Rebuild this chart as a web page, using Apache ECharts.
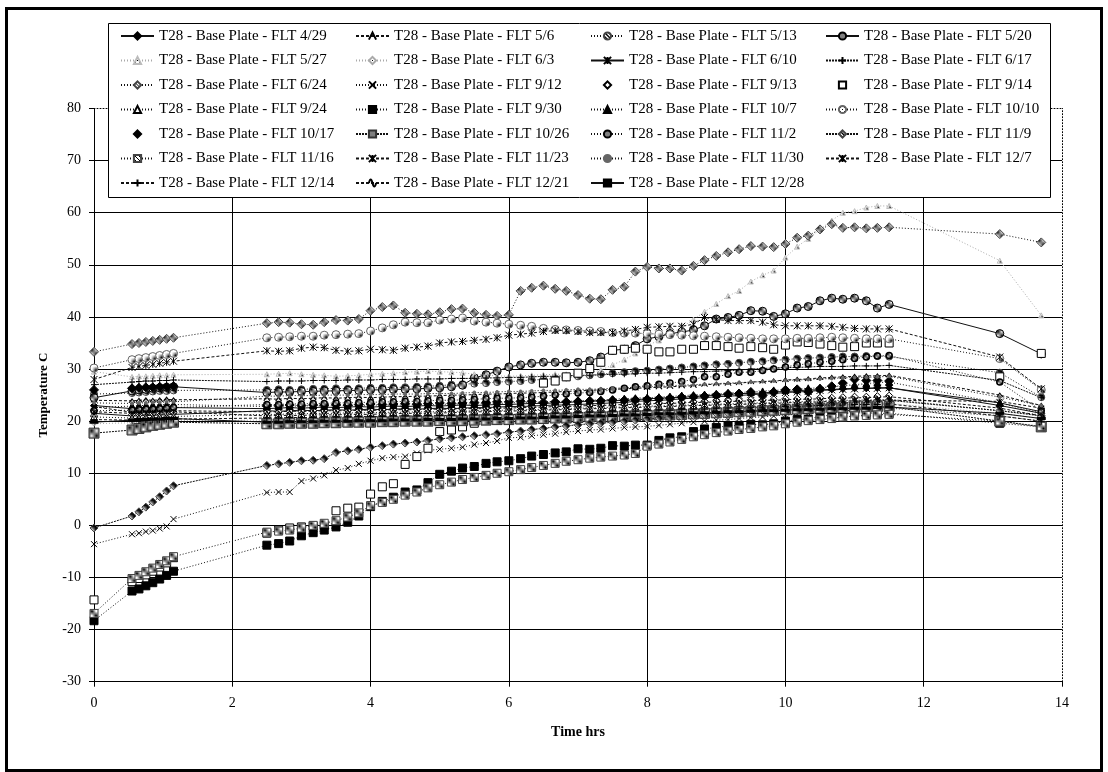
<!DOCTYPE html>
<html>
<head>
<meta charset="utf-8">
<title>T28 - Base Plate</title>
<script src="https://cdn.jsdelivr.net/npm/echarts@6/dist/echarts.min.js"></script>
<style>
  html, body { margin: 0; padding: 0; background: #fff; }
  #chart { width: 1108px; height: 772px; }
</style>
</head>
<body>
<div id="chart"></div>
<script>
// time of each reading (hrs): start, warm-up burst, 10 min log, two late readings
const hours = [0, 0.55, 0.65, 0.75, 0.85, 0.95, 1.05, 1.15,
  2.5, 2.67, 2.83, 3, 3.17, 3.33,
  3.5, 3.67, 3.83, 4, 4.17, 4.33,
  4.5, 4.67, 4.83, 5, 5.17, 5.33,
  5.5, 5.67, 5.83, 6, 6.17, 6.33,
  6.5, 6.67, 6.83, 7, 7.17, 7.33,
  7.5, 7.67, 7.83, 8, 8.17, 8.33,
  8.5, 8.67, 8.83, 9, 9.17, 9.33,
  9.5, 9.67, 9.83, 10, 10.17, 10.33,
  10.5, 10.67, 10.83, 11, 11.17, 11.33,
  11.5, 13.1, 13.7]

const flights = ['4/29', '5/6', '5/13', '5/20', '5/27', '6/3', '6/10', '6/17', '6/24',
  '9/12', '9/13', '9/14', '9/24', '9/30', '10/7', '10/10', '10/17', '10/26', '11/2',
  '11/9', '11/16', '11/23', '11/30', '12/7', '12/14', '12/21', '12/28']

const yTicks = [-30, 80, 10]
const xTicks = [0, 14, 2]

// temperatures (C), one array per flight
const flt0429 = [23.0, 22.4, 22.5, 22.6, 22.5, 22.6, 22.7, 22.6,
  22.4, 22.5, 22.6, 22.5, 22.6, 22.7,
  22.6, 22.7, 22.8, 22.7, 22.8, 22.9,
  22.8, 22.9, 23.0, 22.9, 23.0, 23.1,
  23.0, 23.1, 23.2, 23.2, 23.3, 23.4,
  23.4, 23.5, 23.6, 23.7, 23.8, 23.9,
  23.9, 24.0, 24.1, 24.3, 24.4, 24.5,
  24.6, 24.7, 24.9, 25.0, 25.1, 25.3,
  25.3, 25.4, 25.6, 25.7, 25.8, 26.0,
  26.0, 26.1, 26.2, 26.3, 26.3, 26.4,
  26.4, 23.0, 21.5]
const flt0506 = [24.0, 23.9, 24.0, 24.1, 24.0, 24.1, 24.2, 24.1,
  24.3, 24.2, 24.4, 24.3, 24.4, 24.5,
  24.4, 24.5, 24.6, 24.5, 24.6, 24.7,
  24.7, 24.8, 24.8, 24.9, 25.0, 25.0,
  25.1, 25.2, 25.2, 25.3, 25.4, 25.4,
  25.5, 25.6, 25.7, 25.8, 25.9, 26.0,
  26.1, 26.2, 26.3, 26.4, 26.5, 26.6,
  26.7, 26.8, 27.0, 27.1, 27.2, 27.3,
  27.5, 27.6, 27.7, 27.9, 28.0, 28.1,
  28.3, 28.4, 28.5, 28.6, 28.7, 28.7,
  28.8, 25.0, 23.0]
const flt0513 = [25.2, 25.4, 25.5, 25.6, 25.7, 25.8, 25.8, 25.9,
  26.0, 26.1, 26.0, 26.1, 26.2, 26.2,
  26.3, 26.2, 26.3, 26.4, 26.4, 26.5,
  26.5, 26.6, 26.7, 26.8, 27.0, 27.1,
  27.2, 27.3, 27.5, 27.6, 27.7, 27.9,
  28.0, 28.2, 28.4, 28.6, 28.8, 29.0,
  29.2, 29.4, 29.6, 29.7, 29.9, 30.1,
  30.3, 30.5, 30.7, 30.9, 31.0, 31.2,
  31.4, 31.5, 31.7, 31.8, 32.0, 32.1,
  32.2, 32.3, 32.4, 32.4, 32.5, 32.5,
  32.4, 29.3, 24.6]
const flt0520 = [24.5, 25.8, 26.0, 26.1, 26.3, 26.4, 26.5, 26.6,
  25.5, 25.6, 25.6, 25.7, 25.7, 25.8,
  25.8, 25.9, 25.9, 26.0, 26.0, 26.1,
  26.1, 26.2, 26.3, 26.4, 26.6, 26.9,
  28.3, 28.9, 29.6, 30.4, 30.8, 31.1,
  31.3, 31.3, 31.2, 31.3, 31.6, 32.3,
  33.6, 33.8, 34.5, 35.8, 36.2, 36.8,
  37.1, 37.5, 38.3, 39.6, 39.9, 40.3,
  41.2, 41.1, 40.1, 40.6, 41.7, 42.0,
  43.1, 43.6, 43.4, 43.6, 43.1, 41.7,
  42.4, 36.8, 32.9]
const flt0527 = [29.5, 28.5, 28.6, 28.6, 28.7, 28.8, 28.8, 28.9,
  29.0, 29.1, 29.2, 29.0, 28.9, 28.8,
  28.6, 28.7, 28.8, 29.0, 29.1, 29.2,
  29.4, 29.5, 29.6, 29.5, 29.4, 29.3,
  29.0, 28.8, 28.7, 28.6, 28.7, 28.8,
  28.9, 29.0, 29.0, 29.1, 29.3, 29.8,
  30.8, 31.8, 33.0, 34.5, 35.5, 36.8,
  38.0, 39.5, 41.0, 42.5, 44.0, 45.0,
  46.8, 48.0, 48.9, 51.4, 53.5, 55.0,
  56.8, 58.5, 60.0, 60.3, 61.0, 61.3,
  61.3, 50.8, 40.3]
const flt0603 = [19.5, 19.7, 19.8, 19.8, 19.9, 20.0, 20.0, 20.1,
  20.2, 20.3, 20.3, 20.4, 20.4, 20.5,
  20.5, 20.6, 20.6, 20.7, 20.7, 20.8,
  20.8, 20.9, 20.9, 21.0, 21.0, 21.1,
  21.1, 21.2, 21.2, 21.3, 21.3, 21.4,
  21.5, 21.5, 21.6, 21.7, 21.7, 21.8,
  21.9, 21.9, 22.0, 22.1, 22.1, 22.2,
  22.3, 22.3, 22.4, 22.5, 22.5, 22.6,
  22.7, 22.7, 22.8, 22.9, 22.9, 23.0,
  23.1, 23.1, 23.2, 23.3, 23.3, 23.4,
  23.4, 21.5, 20.5]
const flt0610 = [21.5, 21.0, 21.0, 21.1, 21.1, 21.2, 21.2, 21.3,
  22.0, 21.9, 22.0, 22.1, 22.0, 22.1,
  22.2, 22.1, 22.2, 22.3, 22.2, 22.3,
  22.4, 22.3, 22.4, 22.5, 22.4, 22.5,
  22.6, 22.6, 22.7, 22.8, 22.8, 22.9,
  23.0, 23.1, 23.1, 23.2, 23.3, 23.4,
  23.5, 23.6, 23.8, 23.9, 24.0, 24.1,
  24.3, 24.4, 24.5, 24.7, 24.8, 24.9,
  25.1, 25.2, 25.3, 25.5, 25.6, 25.7,
  25.9, 26.0, 26.1, 26.2, 26.3, 26.3,
  26.4, 23.5, 21.8]
const flt0617 = [27.0, 27.5, 27.6, 27.7, 27.7, 27.8, 27.8, 27.9,
  27.6, 27.7, 27.7, 27.7, 27.8, 27.8,
  27.8, 27.9, 27.9, 27.9, 28.0, 28.0,
  28.0, 28.1, 28.1, 28.1, 28.2, 28.2,
  28.2, 28.3, 28.3, 28.4, 28.4, 28.5,
  28.6, 28.6, 28.7, 28.8, 28.8, 28.9,
  29.0, 29.0, 29.1, 29.2, 29.2, 29.3,
  29.4, 29.5, 29.5, 29.6, 29.7, 29.8,
  30.0, 30.1, 30.2, 30.3, 30.3, 30.4,
  30.5, 30.5, 30.5, 30.6, 30.6, 30.6,
  30.7, 27.8, 24.5]
const flt0624 = [33.3, 34.8, 35.0, 35.2, 35.4, 35.6, 35.8, 36.0,
  38.8, 39.0, 38.9, 38.6, 38.5, 39.0,
  39.4, 39.3, 39.6, 41.2, 41.9, 42.2,
  40.8, 40.6, 40.5, 40.9, 41.5, 41.6,
  40.8, 40.4, 40.2, 40.4, 45.0, 45.6,
  46.0, 45.4, 45.0, 44.2, 43.5, 43.4,
  45.2, 45.8, 48.7, 49.6, 49.3, 49.3,
  48.9, 49.8, 50.9, 51.7, 52.4, 53.0,
  53.6, 53.5, 53.4, 54.0, 55.2, 55.6,
  56.8, 57.8, 57.1, 57.2, 57.0, 57.1,
  57.2, 55.9, 54.3]
const flt0912 = [-3.6, -1.7, -1.5, -1.2, -1.0, -0.6, -0.2, 1.2,
  6.3, 6.4, 6.4, 8.5, 9.0, 9.6,
  10.6, 11.0, 11.8, 12.4, 12.9, 13.1,
  13.2, 13.8, 14.4, 14.6, 14.8, 15.0,
  15.5, 15.8, 16.2, 16.8, 16.9, 17.2,
  17.4, 17.6, 17.9, 18.1, 18.3, 18.4,
  18.6, 18.8, 18.9, 19.0, 19.2, 19.4,
  19.6, 19.8, 20.0, 20.2, 20.3, 20.5,
  20.7, 20.8, 21.0, 21.2, 21.3, 21.5,
  21.7, 21.8, 22.0, 22.1, 22.3, 22.4,
  22.5, 21.0, 20.0]
const flt0913 = [21.0, 21.3, 21.3, 21.4, 21.4, 21.5, 21.5, 21.6,
  21.8, 21.8, 21.9, 21.9, 22.0, 22.0,
  22.0, 22.1, 22.1, 22.1, 22.2, 22.2,
  22.2, 22.3, 22.3, 22.3, 22.4, 22.4,
  22.5, 22.5, 22.6, 22.7, 22.7, 22.8,
  22.9, 22.9, 23.0, 23.1, 23.1, 23.2,
  23.3, 23.3, 23.4, 23.5, 23.5, 23.6,
  23.7, 23.7, 23.8, 23.9, 23.9, 24.0,
  24.1, 24.1, 24.2, 24.3, 24.3, 24.4,
  24.5, 24.5, 24.6, 24.7, 24.7, 24.8,
  24.9, null, null]
const flt0914 = [-14.3, -10.8, -10.2, -9.5, -8.8, -8.0, -7.2, -6.2,
  -1.5, -0.9, -0.5, -0.3, -0.1, 0.0,
  2.8, 3.3, 3.5, 6.0, 7.4, 8.0,
  11.7, 13.2, 14.8, 18.0, 18.3, 18.9,
  19.6, null, null, null, null, null,
  27.3, 27.7, 28.5, 29.2, 30.1, 31.3,
  33.6, 33.8, 34.0, 33.8, 33.3, 33.3,
  33.8, 33.8, 34.5, 34.5, 34.3, 34.0,
  34.3, 34.1, 33.8, 34.6, 35.2, 35.1,
  34.8, 34.5, 34.2, 34.3, 35.0, 35.0,
  35.0, 28.5, 33.0]
const flt0924 = [20.8, 20.6, 20.6, 20.7, 20.7, 20.8, 20.8, 20.9,
  21.3, 21.3, 21.4, 21.4, 21.5, 21.5,
  21.5, 21.6, 21.6, 21.6, 21.7, 21.7,
  21.7, 21.8, 21.8, 21.8, 21.9, 21.9,
  22.0, 22.0, 22.1, 22.1, 22.2, 22.2,
  22.3, 22.3, 22.4, 22.5, 22.5, 22.6,
  22.7, 22.7, 22.8, 22.9, 22.9, 23.0,
  23.1, 23.1, 23.2, 23.3, 23.3, 23.4,
  23.5, 23.5, 23.6, 23.7, 23.7, 23.8,
  23.9, 23.9, 24.0, 24.0, 24.1, 24.1,
  24.2, 22.0, 21.2]
const flt0930 = [-18.3, -12.6, -12.2, -11.6, -11.0, -10.3, -9.6, -8.8,
  -3.8, -3.5, -3.0, -2.0, -1.4, -0.9,
  -0.3, 0.6, 1.8, 3.6, 4.6, 5.4,
  6.4, 6.8, 8.2, 9.8, 10.4, 11.0,
  11.3, 11.9, 12.2, 12.4, 12.8, 13.3,
  13.6, 13.9, 14.1, 14.7, 14.6, 14.8,
  15.3, 15.2, 15.4, 15.4, 16.3, 16.8,
  17.0, 18.0, 18.5, 18.8, 19.1, 19.2,
  19.4, 19.3, 19.5, 20.0, 20.3, 20.4,
  20.9, 21.2, 21.4, 21.6, 21.6, 21.5,
  21.5, 19.6, 18.9]
const flt1007 = [22.6, 22.9, 23.0, 23.0, 23.1, 23.1, 23.2, 23.2,
  22.8, 22.9, 22.9, 22.9, 23.0, 22.9,
  23.0, 23.0, 23.0, 23.1, 23.1, 23.1,
  23.1, 23.2, 23.2, 23.2, 23.3, 23.3,
  23.3, 23.4, 23.4, 23.5, 23.6, 23.6,
  23.7, 23.8, 23.8, 23.9, 24.0, 24.1,
  24.2, 24.3, 24.4, 24.5, 24.6, 24.7,
  24.9, 25.0, 25.1, 25.2, 25.4, 25.5,
  25.6, 25.7, 25.9, 26.0, 26.1, 26.3,
  26.4, 26.6, 26.8, 27.0, 27.2, 27.4,
  27.5, 23.5, 21.5]
const flt1010 = [30.2, 31.8, 32.0, 32.2, 32.4, 32.6, 32.8, 33.0,
  36.0, 36.1, 36.2, 36.3, 36.3, 36.5,
  36.6, 36.7, 36.8, 37.3, 37.9, 38.5,
  39.0, 38.9, 38.9, 39.4, 39.6, 39.8,
  39.2, 39.0, 38.8, 38.6, 38.4, 38.2,
  37.8, 37.6, 37.5, 37.4, 37.3, 37.2,
  37.0, 36.9, 36.9, 36.8, 36.7, 36.6,
  36.5, 36.4, 36.3, 36.2, 36.1, 36.0,
  35.9, 35.8, 35.8, 35.8, 35.9, 35.9,
  36.0, 36.1, 36.0, 35.9, 35.8, 35.8,
  35.8, 32.0, 26.0]
const flt1017 = [26.0, 26.3, 26.4, 26.5, 26.5, 26.6, 26.6, 26.7,
  23.0, 23.0, 23.1, 23.0, 23.1, 23.1,
  23.2, 23.1, 23.2, 23.3, 23.2, 23.3,
  23.4, 23.3, 23.4, 23.5, 23.4, 23.5,
  23.6, 23.6, 23.7, 23.7, 23.8, 23.8,
  23.6, 23.7, 23.7, 23.8, 23.9, 23.9,
  24.0, 24.0, 24.1, 24.2, 24.3, 24.4,
  24.6, 24.7, 24.8, 25.0, 25.2, 25.3,
  25.6, 24.9, 25.6, 26.0, 26.1, 25.6,
  26.2, 26.7, 27.3, 28.0, 27.8, 27.8,
  27.7, null, null]
const flt1026 = [17.7, 18.3, 18.6, 18.9, 19.2, 19.4, 19.6, 19.8,
  19.5, 19.5, 19.6, 19.6, 19.6, 19.7,
  19.7, 19.8, 19.8, 19.8, 19.9, 19.9,
  20.0, 20.0, 20.0, 20.1, 20.1, 20.1,
  20.2, 20.2, 20.3, 20.3, 20.4, 20.4,
  20.5, 20.6, 20.6, 20.7, 20.8, 20.8,
  20.9, 21.0, 21.0, 21.1, 21.2, 21.2,
  21.3, 21.4, 21.5, 21.6, 21.7, 21.8,
  21.9, 22.0, 22.1, 22.2, 22.3, 22.4,
  22.5, 22.6, 22.6, 22.7, 22.7, 22.8,
  22.8, 20.0, 18.9]
const flt1102 = [22.0, 22.1, 22.2, 22.3, 22.3, 22.4, 22.5, 22.6,
  23.2, 23.2, 23.3, 23.3, 23.4, 23.4,
  23.5, 23.5, 23.6, 23.6, 23.7, 23.7,
  23.8, 23.8, 23.9, 24.0, 24.0, 24.1,
  24.2, 24.3, 24.4, 24.4, 24.5, 24.6,
  24.8, 25.0, 25.2, 25.4, 25.5, 25.7,
  26.0, 26.3, 26.6, 26.8, 27.1, 27.3,
  27.6, 28.0, 28.5, 28.5, 29.0, 29.4,
  29.4, 29.7, 30.0, 30.4, 30.8, 31.0,
  31.3, 31.5, 31.8, 32.0, 32.3, 32.5,
  32.6, 27.5, 22.0]
const flt1109 = [-0.5, 1.8, 2.6, 3.5, 4.5, 5.5, 6.6, 7.6,
  11.5, 11.8, 12.1, 12.4, 12.5, 12.8,
  14.0, 14.3, 14.6, 15.0, 15.3, 15.6,
  15.8, 16.0, 16.3, 16.6, 16.8, 17.0,
  17.2, 17.4, 17.6, 17.9, 18.1, 18.4,
  18.6, 18.9, 19.1, 19.3, 19.5, 19.6,
  19.8, 20.0, 20.2, 20.4, 20.6, 20.7,
  20.9, 21.1, 21.3, 21.5, 21.6, 21.8,
  22.0, 22.2, 22.4, 22.6, 22.7, 22.9,
  23.1, 23.3, 23.5, 23.7, 23.8, 23.9,
  24.0, 22.0, 21.0]
const flt1116 = [-16.9, -10.2, -9.6, -8.9, -8.2, -7.5, -6.8, -6.0,
  -1.3, -1.1, -0.9, -0.5, 0.0, 0.4,
  0.9, 1.6, 2.4, 3.8, 4.4, 5.0,
  5.8, 6.4, 7.2, 7.8, 8.3, 8.8,
  9.2, 9.6, 10.0, 10.3, 10.7, 11.1,
  11.5, 11.9, 12.3, 12.6, 12.9, 13.1,
  13.3, 13.5, 13.8, 15.2, 15.6, 16.0,
  16.5, 17.0, 17.4, 17.8, 18.1, 18.4,
  18.6, 18.9, 19.1, 19.5, 19.8, 20.1,
  20.3, 20.5, 20.8, 21.0, 21.1, 21.2,
  21.3, 20.0, 19.0]
const flt1123 = [21.8, 21.5, 21.6, 21.6, 21.7, 21.7, 21.8, 21.8,
  21.0, 21.1, 21.1, 21.1, 21.2, 21.2,
  21.2, 21.3, 21.3, 21.3, 21.4, 21.4,
  21.5, 21.5, 21.5, 21.6, 21.6, 21.7,
  21.8, 21.8, 21.9, 21.9, 22.0, 22.0,
  22.1, 22.2, 22.2, 22.3, 22.4, 22.4,
  22.5, 22.6, 22.6, 22.7, 22.8, 22.8,
  22.9, 23.0, 23.0, 23.1, 23.2, 23.2,
  23.3, 23.4, 23.4, 23.5, 23.6, 23.6,
  23.7, 23.8, 23.8, 23.9, 23.9, 24.0,
  24.0, 23.8, 22.5]
const flt1130 = [23.5, 23.4, 23.5, 23.5, 23.6, 23.6, 23.7, 23.7,
  24.8, 24.8, 24.9, 24.9, 24.9, 25.0,
  25.0, 25.0, 25.1, 25.1, 25.1, 25.2,
  25.2, 25.2, 25.3, 25.3, 25.3, 25.4,
  25.5, 25.5, 25.6, 25.7, 25.7, 25.8,
  25.9, 25.9, 26.0, 26.1, 26.1, 26.2,
  26.3, 26.4, 26.5, 26.6, 26.7, 26.8,
  26.9, 27.0, 27.1, 27.2, 27.3, 27.4,
  27.5, 27.6, 27.7, 27.8, 27.9, 28.0,
  28.1, 28.2, 28.3, 28.4, 28.4, 28.5,
  28.6, 24.6, 23.0]
const flt1207 = [28.0, 30.3, 30.5, 30.7, 30.9, 31.1, 31.3, 31.5,
  33.5, 33.4, 33.5, 34.0, 34.2, 34.1,
  33.6, 33.4, 33.5, 33.8, 33.7, 33.6,
  34.0, 34.2, 34.4, 35.0, 35.2, 35.3,
  35.5, 35.7, 36.0, 36.5, 36.7, 36.9,
  37.2, 37.4, 37.4, 37.2, 37.0, 37.0,
  37.0, 37.3, 37.6, 38.0, 38.1, 38.2,
  38.2, 38.6, 39.9, 39.5, 39.3, 39.3,
  39.3, 39.0, 38.5, 38.3, 38.3, 38.3,
  38.3, 38.2, 38.0, 37.8, 37.7, 37.7,
  37.7, 32.3, 26.2]
const flt1214 = [20.3, 20.2, 20.2, 20.3, 20.3, 20.3, 20.4, 20.4,
  20.6, 20.6, 20.7, 20.7, 20.7, 20.8,
  20.8, 20.8, 20.9, 20.9, 20.9, 21.0,
  21.0, 21.0, 21.1, 21.1, 21.1, 21.2,
  21.2, 21.2, 21.3, 21.3, 21.3, 21.4,
  21.4, 21.5, 21.5, 21.6, 21.7, 21.7,
  21.8, 21.9, 21.9, 22.0, 22.1, 22.1,
  22.2, 22.3, 22.3, 22.4, 22.5, 22.5,
  22.6, 22.7, 22.7, 22.8, 22.9, 22.9,
  23.0, 23.1, 23.1, 23.2, 23.2, 23.2,
  23.3, 21.0, 20.0]
const flt1221 = [22.8, 21.7, 21.8, 21.8, 21.9, 21.9, 22.0, 22.0,
  21.8, 21.8, 21.9, 21.9, 21.9, 22.0,
  22.0, 22.0, 22.1, 22.1, 22.1, 22.2,
  22.2, 22.2, 22.3, 22.3, 22.3, 22.4,
  22.4, 22.4, 22.5, 22.5, 22.6, 22.6,
  22.7, 22.8, 22.8, 22.9, 23.0, 23.0,
  23.1, 23.2, 23.2, 23.3, 23.4, 23.4,
  23.5, 23.6, 23.6, 23.7, 23.8, 23.8,
  23.9, 24.0, 24.0, 24.1, 24.2, 24.2,
  24.3, 24.4, 24.4, 24.5, 24.5, 24.6,
  24.7, 22.5, 21.0]
const flt1228 = [19.8, 20.2, 20.3, 20.3, 20.4, 20.4, 20.5, 20.5,
  19.8, 19.8, 19.9, 19.9, 19.9, 20.0,
  20.0, 20.0, 20.1, 20.1, 20.1, 20.2,
  20.2, 20.2, 20.3, 20.3, 20.3, 20.4,
  20.4, 20.4, 20.5, 20.5, 20.6, 20.6,
  20.7, 20.8, 20.8, 20.9, 21.0, 21.0,
  21.1, 21.2, 21.2, 21.3, 21.4, 21.4,
  21.5, 21.6, 21.6, 21.7, 21.8, 21.8,
  21.9, 22.0, 22.0, 22.1, 22.2, 22.2,
  22.3, 22.4, 22.4, 22.5, 22.5, 22.6,
  22.7, 21.5, 20.5]

const temps = [flt0429, flt0506, flt0513, flt0520, flt0527, flt0603, flt0610, flt0617, flt0624,
  flt0912, flt0913, flt0914, flt0924, flt0930, flt1007, flt1010, flt1017, flt1026, flt1102,
  flt1109, flt1116, flt1123, flt1130, flt1207, flt1214, flt1221, flt1228]

// black & white dither fills, like a mono print
function pattern(rows) {
  const c = document.createElement('canvas')
  c.width = rows[0].length
  c.height = rows.length
  const g = c.getContext('2d')
  rows.forEach((r, y) => {
    for (let x = 0; x < r.length; x++) {
      g.fillStyle = r[x] === '1' ? '#000' : '#fff'
      g.fillRect(x, y, 1, 1)
    }
  })
  return { image: c, repeat: 'repeat' }
}
const CHECK = pattern(['10', '01'])
const HATCH = pattern(['1000', '0100', '0010', '0001'])
const HATCH2 = pattern(['1100', '0110', '0011', '1001'])
const LIGHT = pattern(['1000', '0000', '0010', '0000'])

const P_CROSS = 'path://M0,0L10,10M10,0L0,10'
const P_PLUS = 'path://M5,0L5,10M0,5L10,5'
const P_STAR = 'path://M0,0L10,10M10,0L0,10M5,0L5,10'
const P_CARET = 'path://M0,10L5,0L10,10'
const P_WAVE = 'path://M0,5Q2.5,0,5,5T10,5'

const DOT = [1, 2]
const DASH = [3, 2]
const SHORT = [2, 1]

// marker + line look per flight, same order as flights
const looks = [
  { symbol: 'diamond', size: 7, fill: '#000', line: 'solid' },
  { symbol: P_CARET, size: [6, 4], fill: 'none', line: DASH },
  { symbol: 'circle', size: 7, fill: HATCH2, stroke: '#444', line: DOT },
  { symbol: 'circle', size: 8, fill: CHECK, line: 'solid' },
  { symbol: 'triangle', size: 5, fill: LIGHT, stroke: '#bbb', line: DOT, lineColor: '#aaa' },
  { symbol: 'diamond', size: 5, fill: LIGHT, stroke: '#aaa', line: DOT, lineColor: '#aaa' },
  { symbol: P_STAR, size: 7, fill: 'none', line: 'solid' },
  { symbol: P_PLUS, size: 6, fill: 'none', line: SHORT },
  { symbol: 'diamond', size: 9, fill: HATCH, stroke: '#444', line: DOT },
  { symbol: P_CROSS, size: 6, fill: 'none', line: DOT },
  { symbol: 'diamond', size: 7, fill: '#fff', line: null },
  { symbol: 'rect', size: 8, fill: '#fff', line: null },
  { symbol: 'triangle', size: 7, fill: '#fff', line: DOT },
  { symbol: 'rect', size: 8, fill: '#000', line: DOT },
  { symbol: 'triangle', size: 7, fill: '#000', line: DOT },
  { symbol: 'circle', size: 8, fill: LIGHT, stroke: '#666', line: DOT },
  { symbol: 'diamond', size: 9, fill: '#000', line: null },
  { symbol: 'rect', size: 10, fill: CHECK, stroke: '#333', line: SHORT },
  { symbol: 'circle', size: 6, fill: CHECK, stroke: '#000', bw: 1.5, line: DOT },
  { symbol: 'diamond', size: 8, fill: HATCH2, stroke: '#444', line: SHORT },
  { symbol: 'rect', size: 8, fill: HATCH, stroke: '#444', line: DOT },
  { symbol: P_STAR, size: 5, fill: 'none', line: DASH },
  { symbol: 'circle', size: 3, fill: '#666', stroke: '#666', line: DOT },
  { symbol: P_STAR, size: 7, fill: 'none', line: DASH },
  { symbol: P_PLUS, size: 7, fill: 'none', line: DASH },
  { symbol: P_WAVE, size: [6, 3], fill: 'none', line: DASH },
  { symbol: 'rect', size: [6, 2], fill: '#000', line: 'solid' }
]

const seriesName = f => 'T28 - Base Plate - FLT ' + f

const series = flights.map((f, k) => {
  const lk = looks[k]
  return {
    name: seriesName(f),
    type: 'line',
    data: hours.map((h, i) => [h, temps[k][i]]),
    symbol: lk.symbol,
    symbolSize: lk.size,
    itemStyle: { color: lk.fill, borderColor: lk.stroke || '#000', borderWidth: lk.bw || 1 },
    lineStyle: lk.line ? { color: lk.lineColor || '#111', width: 1, type: lk.line } : { width: 0, opacity: 0 },
    emphasis: { disabled: true },
    silent: true,
    z: 2
  }
})

// legend in four columns, row by row like the original
const legendCols = [0, 1, 2, 3].map(c => flights.filter((f, k) => k % 4 === c).map(seriesName))

const font = 'Liberation Serif'

const chart = echarts.init(document.getElementById('chart'), null, { renderer: 'canvas' })

chart.setOption({
  animation: false,
  backgroundColor: '#fff',
  grid: { left: 94, right: 46, top: 108.5, bottom: 90.3, outerBoundsMode: 'none' },
  legend: legendCols.map((names, c) => ({
    data: names,
    orient: 'vertical',
    left: 120 + 235 * c,
    top: 28,
    padding: 0,
    itemWidth: 33,
    itemHeight: 9,
    itemGap: 8.5,
    selectedMode: false,
    textStyle: { fontFamily: font, fontSize: 15, color: '#000', lineHeight: 16 }
  })),
  xAxis: [{
    type: 'value',
    min: xTicks[0], max: xTicks[1], interval: xTicks[2],
    name: 'Time hrs',
    nameLocation: 'middle',
    nameGap: 44,
    nameTextStyle: { fontFamily: font, fontSize: 14, fontWeight: 'bold', color: '#000' },
    axisLine: { show: true, onZero: false, lineStyle: { color: '#000', width: 1 } },
    axisTick: { show: true, inside: false, length: 5, lineStyle: { color: '#000' } },
    axisLabel: { fontFamily: font, fontSize: 14, color: '#000', margin: 15 },
    splitLine: { show: true, showMinLine: false, showMaxLine: false, lineStyle: { color: '#000', width: 1 } }
  }, {
    type: 'value', position: 'top',
    min: xTicks[0], max: xTicks[1],
    axisLine: { show: true, onZero: false, lineStyle: { color: '#000', width: 1, type: [1, 2] } },
    axisTick: { show: false }, axisLabel: { show: false }, splitLine: { show: false }
  }],
  yAxis: [{
    type: 'value',
    min: yTicks[0], max: yTicks[1], interval: yTicks[2],
    name: 'Temperature C',
    nameLocation: 'middle',
    nameGap: 44,
    nameTextStyle: { fontFamily: font, fontSize: 13, fontWeight: 'bold', color: '#000' },
    axisLine: { show: true, onZero: false, lineStyle: { color: '#000', width: 1 } },
    axisTick: { show: true, inside: false, length: 5, lineStyle: { color: '#000' } },
    axisLabel: { fontFamily: font, fontSize: 14, color: '#000', margin: 13 },
    splitLine: { show: true, showMinLine: false, showMaxLine: false, lineStyle: { color: '#000', width: 1 } }
  }, {
    type: 'value', position: 'right',
    min: yTicks[0], max: yTicks[1],
    axisLine: { show: true, onZero: false, lineStyle: { color: '#000', width: 1, type: [1, 2] } },
    axisTick: { show: false }, axisLabel: { show: false }, splitLine: { show: false }
  }],
  graphic: [
    {
      type: 'rect', z: 3, silent: true,
      shape: { x: 108.5, y: 23.5, width: 942, height: 174 },
      style: { fill: '#fff', stroke: '#000', lineWidth: 1 }
    },
    {
      type: 'rect', z: 10, silent: true,
      shape: { x: 6.5, y: 8.5, width: 1095, height: 762 },
      style: { fill: 'none', stroke: '#000', lineWidth: 3 }
    }
  ],
  series
})
</script>
</body>
</html>
